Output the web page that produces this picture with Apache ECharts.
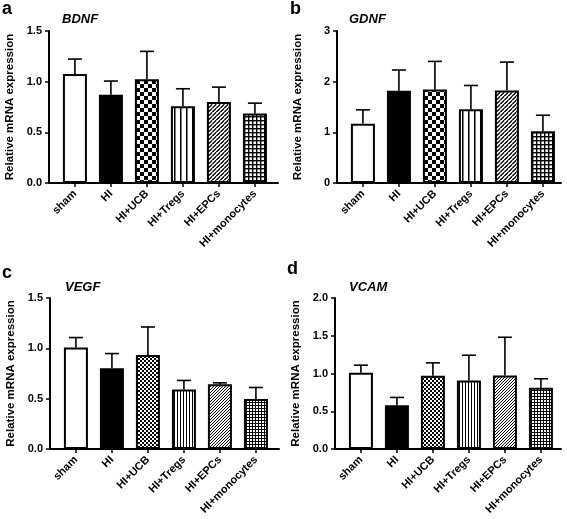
<!DOCTYPE html>
<html><head><meta charset="utf-8">
<script src="https://cdn.jsdelivr.net/npm/echarts@6/dist/echarts.min.js"></script>
<style>html,body{margin:0;padding:0;background:#fff}#c{width:567px;height:519px}</style>
</head><body><div id="c"></div>
<script>
// ---- data ----
const categories = ['sham', 'HI', 'HI+UCB', 'HI+Tregs', 'HI+EPCs', 'HI+monocytes'];
const bdnfMean = [1.075, 0.87, 1.025, 0.758, 0.80, 0.686];
const bdnfErr  = [0.148, 0.136, 0.274, 0.172, 0.146, 0.102];
const gdnfMean = [1.167, 1.82, 1.846, 1.457, 1.826, 1.02];
const gdnfErr  = [0.277, 0.41, 0.554, 0.468, 0.56, 0.318];
const vegfMean = [1.008, 0.803, 0.935, 0.591, 0.644, 0.496];
const vegfErr  = [0.099, 0.145, 0.277, 0.09, 0.013, 0.115];
const vcamMean = [1.009, 0.581, 0.969, 0.907, 0.974, 0.81];
const vcamErr  = [0.101, 0.102, 0.172, 0.335, 0.506, 0.12];
const panelTitles = ['BDNF', 'GDNF', 'VEGF', 'VCAM'];
const panelLetters = ['a', 'b', 'c', 'd'];
const yTicksA = [0, 0.5, 1.0, 1.5];
const yTicksB = [0, 1, 2, 3];
const yTicksC = [0, 0.5, 1.0, 1.5];
const yTicksD = [0, 0.5, 1.0, 1.5, 2.0];

// ---- patterns ----
function mk(w, h, draw) {
  const c = document.createElement('canvas'); c.width = w; c.height = h;
  const g = c.getContext('2d'); g.fillStyle = '#fff'; g.fillRect(0, 0, w, h);
  g.fillStyle = '#000'; g.strokeStyle = '#000'; draw(g, w, h); return c;
}
function checker(s) { return mk(2 * s, 2 * s, (g) => { g.fillRect(0, 0, s, s); g.fillRect(s, s, s, s); }); }
function vlines(s, lw) { return mk(s, 4, (g) => { g.fillRect(0, 0, lw, 4); }); }
function diag(s, lw) {
  return mk(s, s, (g, w, h) => {
    g.lineWidth = lw; g.beginPath();
    for (let k = -1; k <= 1; k++) { g.moveTo(k * s - 1, s + 1); g.lineTo(k * s + s + 1, -1); }
    g.stroke();
  });
}
function gridPat(s, lw) { return mk(s, s, (g) => { g.fillRect(0, 0, s, lw); g.fillRect(0, 0, lw, s); }); }
function pat(c) { return { image: c, repeat: 'repeat' }; }
const coarse = ['#fff', '#000', pat(checker(4)), pat(vlines(6, 1.5)), pat(diag(4.5, 1.3)), pat(gridPat(4.3, 1.4))];
const fine = ['#fff', '#000', pat(checker(2)), pat(vlines(3, 1)), pat(diag(3, 1)), pat(gridPat(3, 1))];

const FONT = 'Liberation Sans, Arial, Helvetica, sans-serif';
const grids = [
  { left: 49, top: 31, width: 229, height: 152 },
  { left: 337, top: 31, width: 224, height: 152 },
  { left: 50, top: 298, width: 229, height: 151 },
  { left: 335, top: 298, width: 226, height: 151 }
];
const means = [bdnfMean, gdnfMean, vegfMean, vcamMean];
const errs = [bdnfErr, gdnfErr, vegfErr, vcamErr];
const yTicks = [yTicksA, yTicksB, yTicksC, yTicksD];
const pats = [coarse, coarse, fine, fine];
const xMin = -0.72;

const xAxes = [], yAxes = [], series = [];
grids.forEach((gd, p) => {
  const yt = yTicks[p];
  const step = yt[1] - yt[0];
  xAxes.push({
    gridIndex: p, type: 'value', min: xMin, max: xMin + gd.width / 36,
    axisLine: { show: true, onZero: false, lineStyle: { color: '#000', width: 2 } },
    axisTick: { show: true, length: 4, lineStyle: { color: '#000', width: 1.5 }, customValues: [0, 1, 2, 3, 4, 5] },
    axisLabel: { show: true, rotate: 45, margin: 9, color: '#000', fontSize: 11, fontWeight: 'bold', fontFamily: FONT,
      customValues: [0, 1, 2, 3, 4, 5], formatter: (v) => categories[Math.round(v)] },
    splitLine: { show: false }
  });
  yAxes.push({
    gridIndex: p, type: 'value', min: 0, max: yt[yt.length - 1], interval: step,
    name: 'Relative mRNA expression', nameLocation: 'middle', nameGap: 33,
    nameTextStyle: { color: '#000', fontSize: 11.5, fontWeight: 'bold', fontFamily: FONT },
    axisLine: { show: true, onZero: false, lineStyle: { color: '#000', width: 2 } },
    axisTick: { show: true, length: 4, lineStyle: { color: '#000', width: 1.5 } },
    axisLabel: { color: '#000', fontSize: 11, fontWeight: 'bold', fontFamily: FONT, margin: 7,
      formatter: (v) => (p === 1 ? String(v) : v.toFixed(1)) },
    splitLine: { show: false }
  });
  series.push({
    type: 'bar', xAxisIndex: p, yAxisIndex: p, barWidth: 24,
    data: means[p].map((v, i) => ({ value: [i, v], itemStyle: { color: pats[p][i] } })),
    itemStyle: { borderColor: '#000', borderWidth: 2 },
    emphasis: { disabled: true }, animation: false
  });
  series.push({
    type: 'custom', xAxisIndex: p, yAxisIndex: p, z: 5,
    data: means[p].map((v, i) => [i, v, errs[p][i]]),
    renderItem: (params, api) => {
      const x = api.value(0), m = api.value(1), e = api.value(2);
      const a = api.coord([x, m]), b = api.coord([x, m + e]);
      const st = { stroke: '#000', lineWidth: 1.6 };
      return { type: 'group', children: [
        { type: 'line', shape: { x1: a[0], y1: a[1], x2: b[0], y2: b[1] }, style: st },
        { type: 'line', shape: { x1: b[0] - 7, y1: b[1], x2: b[0] + 7, y2: b[1] }, style: st }
      ] };
    },
    animation: false
  });
});

const titlePos = [[62, 21], [349, 21], [65, 289], [349, 289]];
const letterPos = [[2, 0], [290, 0], [2, 264], [287, 260]];
const graphic = [];
panelTitles.forEach((t, i) => {
  graphic.push({ type: 'text', left: titlePos[i][0], top: titlePos[i][1] - 8,
    style: { text: t, font: 'italic bold 13px ' + FONT, fill: '#000' } });
  graphic.push({ type: 'text', left: letterPos[i][0], top: letterPos[i][1],
    style: { text: panelLetters[i], font: 'bold 18px ' + FONT, fill: '#000' } });
});

const chart = echarts.init(document.getElementById('c'), null, { renderer: 'canvas' });
chart.setOption({
  animation: false, backgroundColor: '#fff',
  grid: grids, xAxis: xAxes, yAxis: yAxes, series: series, graphic: graphic
});
</script></body></html>
